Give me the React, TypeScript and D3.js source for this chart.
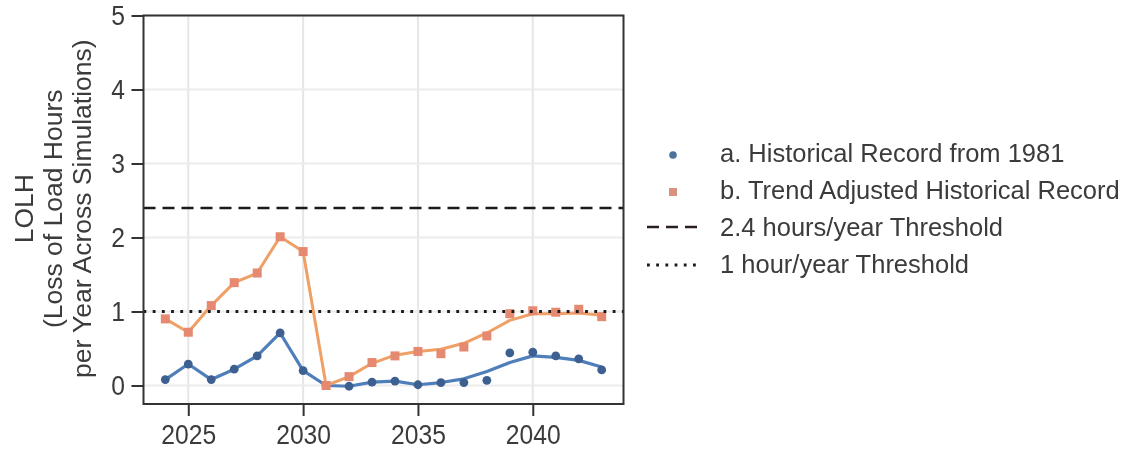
import React, { useEffect, useRef } from "react";
import * as d3 from "d3";

// years on the x axis
const years = [
  2024, 2025, 2026, 2027, 2028, 2029, 2030, 2031, 2032, 2033, 2034, 2035, 2036,
  2037, 2038, 2039, 2040, 2041, 2042, 2043,
];

// a. Historical Record from 1981
const histPoints = [
  0.08, 0.29, 0.08, 0.22, 0.4, 0.71, 0.2, 0.0, -0.01, 0.045, 0.06, 0.01, 0.04,
  0.04, 0.07, 0.44, 0.45, 0.4, 0.36, 0.21,
];
const histLine = [
  0.08, 0.29, 0.08, 0.22, 0.4, 0.71, 0.2, 0.0, -0.01, 0.045, 0.06, 0.01, 0.04,
  0.09, 0.19, 0.31, 0.4, 0.38, 0.34, 0.25,
];

// b. Trend Adjusted Historical Record
const trendPoints = [
  0.9, 0.72, 1.08, 1.39, 1.52, 2.01, 1.81, 0.0, 0.12, 0.31, 0.4, 0.46, 0.43,
  0.52, 0.67, 0.97, 1.01, 0.99, 1.03, 0.93,
];
const trendLine = [
  0.9, 0.72, 1.08, 1.39, 1.52, 2.01, 1.81, 0.0, 0.12, 0.3, 0.41, 0.46, 0.49,
  0.57, 0.71, 0.88, 0.97, 0.97, 0.98, 0.95,
];

const xTicks = [2025, 2030, 2035, 2040];
const yTicks = [0, 1, 2, 3, 4, 5];
const thresholds = [2.4, 1];
const legendLabels = [
  "a. Historical Record from 1981",
  "b. Trend Adjusted Historical Record",
  "2.4 hours/year Threshold",
  "1 hour/year Threshold",
];
const yTitle = ["LOLH", "(Loss of Load Hours", "per Year Across Simulations)"];

const FONT = "'Liberation Sans', Arial, sans-serif";
const TEXT = "#3b3b3b";
const BLUE_LINE = "#4f7fba";
const BLUE_DOT = "#3e6090";
const ORANGE_LINE = "#efa066";
const ORANGE_SQ = "#e58a70";

const Chart = () => {
  const svgRef = useRef<SVGSVGElement>(null);

  useEffect(() => {
    const W = 1125;
    const H = 452;
    const margin = { top: 15.5, right: 501.5, bottom: 48, left: 143.5 };
    const stretch = 1.12; // tick labels in the scan are a bit taller than wide

    const x = d3
      .scaleLinear()
      .domain([2023.05, 2043.95])
      .range([margin.left, W - margin.right]);
    const y = d3
      .scaleLinear()
      .domain([-0.25, 5])
      .range([H - margin.bottom, margin.top]);

    const svg = d3.select(svgRef.current).attr("width", W).attr("height", H);
    svg.selectAll("*").remove();

    // grid
    const grid = svg.append("g");
    grid
      .selectAll("line.gx")
      .data(xTicks)
      .enter()
      .append("line")
      .attr("x1", (d) => x(d))
      .attr("x2", (d) => x(d))
      .attr("y1", margin.top)
      .attr("y2", H - margin.bottom)
      .attr("stroke", "#e6e6e6")
      .attr("stroke-width", 2);
    grid
      .selectAll("line.gy")
      .data(yTicks)
      .enter()
      .append("line")
      .attr("x1", margin.left)
      .attr("x2", W - margin.right)
      .attr("y1", (d) => y(d))
      .attr("y2", (d) => y(d))
      .attr("stroke", "#ececec")
      .attr("stroke-width", 2);

    // axes
    const xAxis = svg
      .append("g")
      .attr("transform", `translate(0,${H - margin.bottom})`)
      .call(
        d3
          .axisBottom(x)
          .tickValues(xTicks)
          .tickSize(12)
          .tickFormat(d3.format("d"))
      );
    const yAxis = svg
      .append("g")
      .attr("transform", `translate(${margin.left},0)`)
      .call(
        d3
          .axisLeft(y)
          .tickValues(yTicks)
          .tickSize(12)
          .tickPadding(6.5)
          .tickFormat(d3.format("d"))
      );
    [xAxis, yAxis].forEach((a) => {
      a.select(".domain").remove();
      a.selectAll(".tick line").attr("stroke", "#333").attr("stroke-width", 2);
      a.selectAll(".tick text")
        .attr("fill", TEXT)
        .attr("transform", `scale(1,${stretch})`)
        .style("font-family", FONT)
        .style("font-size", "24.7px");
    });
    xAxis
      .selectAll(".tick text")
      .attr("y", 40 / stretch)
      .attr("dy", null);

    const pts = years.map((yr, i) => ({
      yr,
      hp: histPoints[i],
      hl: histLine[i],
      tp: trendPoints[i],
      tl: trendLine[i],
    }));

    // historical series
    svg
      .append("path")
      .datum(pts)
      .attr("fill", "none")
      .attr("stroke", BLUE_LINE)
      .attr("stroke-width", 3.2)
      .attr("stroke-linejoin", "round")
      .attr(
        "d",
        d3
          .line<any>()
          .x((d) => x(d.yr))
          .y((d) => y(d.hl))
      );
    svg
      .append("g")
      .selectAll("circle")
      .data(pts)
      .enter()
      .append("circle")
      .attr("cx", (d) => x(d.yr))
      .attr("cy", (d) => y(d.hp))
      .attr("r", 4.4)
      .attr("fill", BLUE_DOT);

    // trend adjusted series
    svg
      .append("path")
      .datum(pts)
      .attr("fill", "none")
      .attr("stroke", ORANGE_LINE)
      .attr("stroke-width", 3)
      .attr("stroke-linejoin", "round")
      .attr(
        "d",
        d3
          .line<any>()
          .x((d) => x(d.yr))
          .y((d) => y(d.tl))
      );
    svg
      .append("g")
      .selectAll("rect")
      .data(pts)
      .enter()
      .append("rect")
      .attr("x", (d) => x(d.yr) - 4.5)
      .attr("y", (d) => y(d.tp) - 4.5)
      .attr("width", 9)
      .attr("height", 9)
      .attr("fill", ORANGE_SQ);

    // thresholds
    const dashes = ["12 7", "2.8 6.4"];
    svg
      .append("g")
      .selectAll("line")
      .data(thresholds)
      .enter()
      .append("line")
      .attr("x1", margin.left)
      .attr("x2", W - margin.right)
      .attr("y1", (d) => y(d))
      .attr("y2", (d) => y(d))
      .attr("stroke", "#1a1a1a")
      .attr("stroke-width", (d, i) => (i === 0 ? 2.5 : 2.8))
      .attr("stroke-dasharray", (d, i) => dashes[i]);

    // frame
    svg
      .append("rect")
      .attr("x", margin.left)
      .attr("y", margin.top)
      .attr("width", W - margin.left - margin.right)
      .attr("height", H - margin.top - margin.bottom)
      .attr("fill", "none")
      .attr("stroke", "#333")
      .attr("stroke-width", 2);

    // y title (slightly stretched along its length, as in the scan)
    const cy = (margin.top + H - margin.bottom) / 2 - 1;
    svg
      .append("g")
      .attr(
        "transform",
        `translate(0,${cy}) scale(1,1.06) translate(0,${-cy})`
      )
      .selectAll("text")
      .data(yTitle)
      .enter()
      .append("text")
      .attr("transform", "rotate(-90)")
      .attr("x", -cy)
      .attr("y", (d, i) => 33 + i * 29)
      .attr("text-anchor", "middle")
      .attr("fill", TEXT)
      .style("font-family", FONT)
      .style("font-size", "25px")
      .text((d) => d);

    // legend
    const lg = svg.append("g").attr("transform", "translate(647,153)");
    const rowH = 37;
    lg.append("circle")
      .attr("cx", 26)
      .attr("cy", 2)
      .attr("r", 3.8)
      .attr("fill", "#4d739c");
    lg.append("rect")
      .attr("x", 22)
      .attr("y", rowH + 2 - 4)
      .attr("width", 8)
      .attr("height", 8)
      .attr("fill", "#d9937f");
    lg.append("line")
      .attr("x1", 0)
      .attr("x2", 51)
      .attr("y1", 2 * rowH)
      .attr("y2", 2 * rowH)
      .attr("stroke", "#2a1e1e")
      .attr("stroke-width", 2.5)
      .attr("stroke-dasharray", dashes[0]);
    lg.append("line")
      .attr("x1", 0)
      .attr("x2", 51)
      .attr("y1", 3 * rowH + 1)
      .attr("y2", 3 * rowH + 1)
      .attr("stroke", "#1a1a1a")
      .attr("stroke-width", 2.8)
      .attr("stroke-dasharray", dashes[1]);
    lg.selectAll("text")
      .data(legendLabels)
      .enter()
      .append("text")
      .attr("x", 73)
      .attr("y", (d, i) => i * rowH + 9)
      .attr("fill", TEXT)
      .style("font-family", FONT)
      .style("font-size", "25.5px")
      .text((d) => d);
  }, []);

  return (
    <svg
      ref={svgRef}
      style={{ position: "fixed", left: 0, top: 0, display: "block" }}
    />
  );
};

export default function App() {
  return (
    <div>
      <Chart />
    </div>
  );
}
